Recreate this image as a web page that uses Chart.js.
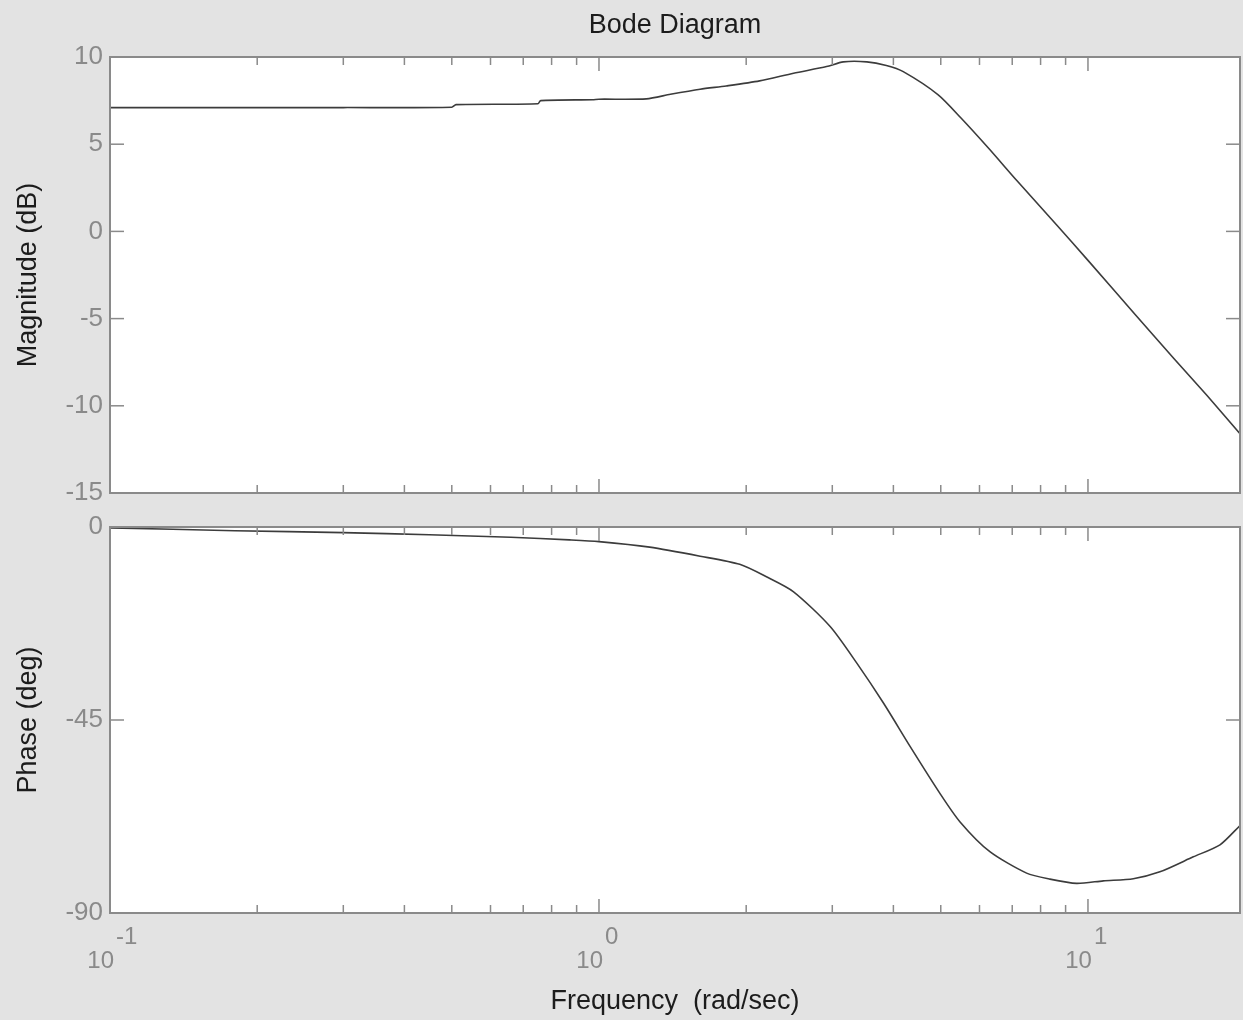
<!DOCTYPE html>
<html lang="en">
<head>
    <meta charset="UTF-8">
    <title>Bode Diagram</title>
    <style>
        body {
            margin: 0;
            background-color: #e3e3e3;
            font-family: 'Liberation Sans', Arial, sans-serif;
        }
        .plot {
            position: absolute;
            left: 0;
            width: 1243px;
            height: 513px;
        }
    </style>
</head>
<body>
    <div class="plot" style="top: 0;"><canvas id="magChart"></canvas></div>
    <div class="plot" style="top: 507px;"><canvas id="phaseChart"></canvas></div>

    <script src="https://cdn.jsdelivr.net/npm/chart.js@4.4.0/dist/chart.umd.min.js"></script>
    <script>
        // frequency (rad/sec) and magnitude (dB)
        const freqMag = [0.1, 0.2, 0.3, 0.5, 0.51, 0.75, 0.76, 0.97, 1.0, 1.25, 1.4, 1.61, 1.82, 2.13, 2.5, 2.92, 3.16, 3.53, 3.87, 4.19, 4.94, 5.5, 6.27, 7.16, 8.64, 10, 12.5, 15, 17.5, 20.46];
        const magDb = [7.1, 7.1, 7.1, 7.12, 7.27, 7.32, 7.5, 7.55, 7.58, 7.6, 7.86, 8.15, 8.34, 8.63, 9.07, 9.45, 9.72, 9.72, 9.51, 9.16, 7.83, 6.5, 4.75, 2.9, 0.35, -1.66, -4.78, -7.3, -9.4, -11.6];

        // frequency (rad/sec) and phase (deg)
        const freqPhase = [0.1, 0.18, 0.3, 0.45, 0.66, 0.87, 1.0, 1.27, 1.61, 1.94, 2.2, 2.5, 2.97, 3.37, 3.82, 4.33, 4.98, 5.47, 6.3, 7.49, 8.36, 9.48, 10.75, 12.38, 14.03, 16.42, 18.62, 20.46];
        const phaseDeg = [-0.2, -0.86, -1.3, -1.8, -2.4, -3.0, -3.4, -4.7, -6.8, -8.7, -11.6, -15.1, -23.2, -31.8, -41.1, -51.2, -62.1, -68.7, -75.7, -80.7, -82.1, -83.1, -82.5, -82.0, -80.4, -76.9, -74.1, -69.6];

        // axes
        const xMin = 0.1, xMax = 20.46;
        const xDecades = [-1, 0, 1];
        const magRange = [-15, 10], magStep = 5;
        const phaseRange = [-90, 0], phaseStep = 45;

        const axisColor = '#8a8a8a';
        const labelColor = '#8a8a8a';
        const textColor = '#1c1c1c';
        const lineColor = '#3c3c3c';
        const fontFam = "'Liberation Sans', Arial, sans-serif";

        const toPoints = (xs, ys) => xs.map((x, i) => ({ x: x, y: ys[i] }));

        // white plot area, grey frame and inward tick marks like the old matlab plot
        const boxPlugin = {
            id: 'box',
            beforeDraw(chart) {
                const { ctx, chartArea: a } = chart;
                ctx.save();
                ctx.fillStyle = '#ffffff';
                ctx.fillRect(a.left, a.top, a.right - a.left, a.bottom - a.top);
                ctx.restore();
            },
            afterDraw(chart) {
                const { ctx, chartArea: a, scales } = chart;
                const seg = (x1, y1, x2, y2) => {
                    ctx.beginPath();
                    ctx.moveTo(x1, y1);
                    ctx.lineTo(x2, y2);
                    ctx.stroke();
                };
                ctx.save();
                ctx.strokeStyle = axisColor;
                ctx.lineWidth = 2;
                ctx.strokeRect(a.left, a.top, a.right - a.left, a.bottom - a.top);

                ctx.lineWidth = 1.5;
                scales.y.ticks.forEach(t => {
                    const py = scales.y.getPixelForValue(t.value);
                    seg(a.left, py, a.left + 14, py);
                    seg(a.right, py, a.right - 14, py);
                });
                xDecades.forEach(d => {
                    for (let m = 1; m <= 9; m++) {
                        const v = m * Math.pow(10, d);
                        if (v <= xMin || v > 10) continue;
                        const px = scales.x.getPixelForValue(v);
                        const len = m === 1 ? 14 : 8;
                        seg(px, a.bottom, px, a.bottom - len);
                        seg(px, a.top, px, a.top + len);
                    }
                });
                ctx.restore();
            }
        };

        // 10^n labels under the phase plot
        const decadeLabels = {
            id: 'decadeLabels',
            afterDraw(chart) {
                const { ctx, chartArea: a, scales } = chart;
                ctx.save();
                ctx.fillStyle = labelColor;
                ctx.font = '24px ' + fontFam;
                ctx.textBaseline = 'middle';
                xDecades.forEach(d => {
                    const px = scales.x.getPixelForValue(Math.pow(10, d));
                    ctx.textAlign = 'right';
                    ctx.fillText('10', px + 4, a.bottom + 48);
                    ctx.textAlign = 'left';
                    ctx.fillText(String(d), px + 6, a.bottom + 24);
                });
                ctx.restore();
            }
        };

        function baseOptions(range, step, yTitle, xHeight, xTitle) {
            return {
                responsive: true,
                maintainAspectRatio: false,
                animation: false,
                plugins: {
                    legend: { display: false },
                    tooltip: { enabled: false }
                },
                elements: {
                    point: { radius: 0 },
                    line: { borderWidth: 1.6, borderColor: lineColor, tension: 0.25 }
                },
                scales: {
                    x: {
                        type: 'logarithmic',
                        min: xMin,
                        max: xMax,
                        grid: { display: false },
                        border: { display: false },
                        ticks: { display: false },
                        title: {
                            display: !!xTitle,
                            text: xTitle || '',
                            color: textColor,
                            font: { size: 27, family: fontFam },
                            padding: { top: 0, bottom: 2 }
                        },
                        afterFit: (s) => { s.height = xHeight; }
                    },
                    y: {
                        min: range[0],
                        max: range[1],
                        grid: { display: false, drawTicks: false },
                        border: { display: false },
                        ticks: {
                            stepSize: step,
                            padding: 7,
                            color: labelColor,
                            font: { size: 26, family: fontFam, lineHeight: 1 }
                        },
                        title: {
                            display: true,
                            text: yTitle,
                            color: textColor,
                            font: { size: 27, family: fontFam },
                            padding: { top: 12, bottom: 0 }
                        },
                        afterFit: (s) => { s.width = 110; }
                    }
                }
            };
        }

        const magOpts = baseOptions(magRange, magStep, 'Magnitude (dB)', 17, null);
        magOpts.layout = { padding: { left: 0, right: 3, top: 0, bottom: 0 } };
        magOpts.plugins.title = {
            display: true,
            text: 'Bode Diagram',
            fullSize: false,
            color: textColor,
            font: { size: 27, weight: 'normal', family: fontFam, lineHeight: 1.2 },
            padding: { top: 9.5, bottom: 15.1 }
        };

        const magChart = new Chart(document.getElementById('magChart'), {
            type: 'line',
            data: { datasets: [{ data: toPoints(freqMag, magDb) }] },
            options: magOpts,
            plugins: [boxPlugin]
        });

        const phaseOpts = baseOptions(phaseRange, phaseStep, 'Phase (deg)', 107, 'Frequency  (rad/sec)');
        phaseOpts.layout = { padding: { left: 0, right: 3, top: 17, bottom: 0 } };

        const phaseChart = new Chart(document.getElementById('phaseChart'), {
            type: 'line',
            data: { datasets: [{ data: toPoints(freqPhase, phaseDeg) }] },
            options: phaseOpts,
            plugins: [boxPlugin, decadeLabels]
        });
    </script>
</body>
</html>
